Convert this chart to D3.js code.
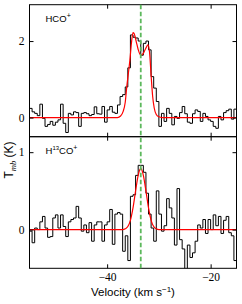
<!DOCTYPE html>
<html>
<head>
<meta charset="utf-8">
<script src="https://cdn.jsdelivr.net/npm/d3@7"></script>
<style>
    body { margin: 0; background: #fff; }
    svg { display: block; }
    .tick text { font-family: "Liberation Serif", "Times New Roman", serif; font-size: 11.5px; fill: #000; }
    .tick line { stroke: #000; }
    .frame { fill: none; stroke: #000; stroke-width: 1; }
    .spectrum { fill: none; stroke: #000; stroke-width: 1; }
    .fit { fill: none; stroke: #ff0000; stroke-width: 1.2; }
    .vlsr { stroke: #5cb85c; stroke-width: 1.8; stroke-dasharray: 4.5, 2.5; }
    .lineName, .axisTitle { font-family: "Liberation Sans", Arial, sans-serif; fill: #000; }
</style>
</head>
<body>
<div id="chart"></div>
<script>
//Left edge of every channel (km/s)
var chanVel = [-55, -54.5, -54, -53.5, -53, -52.5, -52, -51.5, -51, -50.5,
    -50, -49.5, -49, -48.5, -48, -47.5, -47, -46.5, -46, -45.5,
    -45, -44.5, -44, -43.5, -43, -42.5, -42, -41.5, -41, -40.5,
    -40, -39.5, -39, -38.5, -38, -37.5, -37, -36.5, -36, -35.5,
    -35, -34.5, -34, -33.5, -33, -32.5, -32, -31.5, -31, -30.5,
    -30, -29.5, -29, -28.5, -28, -27.5, -27, -26.5, -26, -25.5,
    -25, -24.5, -24, -23.5, -23, -22.5, -22, -21.5, -21, -20.5,
    -20, -19.5, -19, -18.5, -18, -17.5, -17, -16.5, -16, -15.5];

//HCO+ brightness per channel (K)
var hcoT = [0.24, 0.15, 0.11, 0.05, 0.35, -0.02, -0.23, -0.18, -0.1, -0.2,
    -0.12, -0.06, 0.35, -0.15, -0.39, 0.11, 0.07, 0.15, 0.13, -0.23,
    0.11, 0.13, 0.1, 0.05, 0.08, 0.28, 0.1, 0.09, 0.29, -0.12,
    0.2, 0.29, 0.14, 0.11, 0.33, 0.55, 0.6, 0.8, 1.3, 2.16,
    2.1, 2.08, 2.0, 1.63, 1.94, 2.0, 1.77, 1.07, 0.77, 0.42,
    -0.23, 0.11, -0.1, 0.24, 0.11, -0.19, 0.03, -0.02, 0.13, 0.29,
    0.1, -0.12, -0.15, 0.1, 0.2, 0.16, -0.1, 0.11, 0.03, -0.06,
    -0.1, -0.23, -0.28, 0.03, -0.06, 0.13, 0.18, 0.22, -0.04, 0.22];

//H13CO+ brightness per channel (K)
var h13coT = [-0.02, -0.17, 0.02, 0.0, 0.1, 0.17, 0.02, -0.1, -0.09, 0.15,
    0.19, 0.02, 0.19, 0.04, -0.09, 0.1, 0.13, 0.15, 0.3, 0.15,
    -0.02, 0.06, -0.04, 0.09, -0.15, 0.06, 0.1, 0.1, -0.15, 0.06,
    0.1, 0.26, -0.19, 0.2, 0.22, 0.2, -0.28, -0.08, -0.4, 0.43,
    0.45, 0.7, 0.83, 0.83, 0.74, 0.47, 0.2, 0.02, -0.15, 0.5,
    0.2, -0.02, 0.05, 0.4, 0.28, 0.15, -0.2, 0.53, -0.13, -0.25,
    -0.6, -0.2, -0.36, -0.3, -0.15, 0.06, 0.02, 0.13, -0.05, 0.13,
    0.0, 0.19, 0.05, 0.17, -0.05, 0.12, 0.17, -0.04, -0.08, -0.4];

//Red fitted profiles
var hcoFitVel = [-55, -38, -37.4, -36.9, -36.5, -36.2, -35.9, -35.6, -35.3, -35.0,
    -34.8, -34.4, -34.0, -33.5, -33.0, -32.5, -32.1, -31.8, -31.5, -31.2,
    -30.9, -30.5, -30.0, -29.4, -15];
var hcoFitT = [0, 0, 0.04, 0.16, 0.4, 0.81, 1.15, 1.5, 1.95, 2.22,
    2.2, 2.0, 1.78, 1.63, 1.68, 1.82, 1.9, 1.7, 1.1, 0.55,
    0.25, 0.08, 0.02, 0, 0];
var h13coFitVel = [-55, -37, -36.5, -36, -35.5, -35, -34.5, -34, -33.5, -33,
    -32.5, -32, -31.5, -31, -30.5, -30, -15];
var h13coFitT = [0, 0, 0.01, 0.04, 0.12, 0.28, 0.5, 0.7, 0.79, 0.7,
    0.5, 0.28, 0.12, 0.04, 0.01, 0, 0];

var vlsr = -33.5;
var velDomain = [-55, -15];
var velTicks = [-40, -20];
var hcoDomain = [-0.5, 2.95];
var hcoTicks = [0, 2];
var h13coDomain = [-0.5, 1.2];
var h13coTicks = [0, 1];

var margin = { left: 29.5, right: 236.5, top: 4.7, mid: 136.7, bottom: 268.3 };

var svg = d3.select("#chart").append("svg")
    .attr("width", 242)
    .attr("height", 304);

var xScale = d3.scaleLinear().domain(velDomain).range([margin.left, margin.right]);

//matplotlib style labels with a true minus sign
var tickFmt = function (d) { return String(d).replace("-", "\u2212"); };

/**
 * One spectrum panel: frame, ticks, step spectrum and fitted profile
 */
function SpectrumPanel(id, top, bottom, yDomain, yTicks, values, fitVel, fitT, name, showXLabels) {
    var self = this;
    self.id = id;
    self.top = top;
    self.bottom = bottom;
    self.yScale = d3.scaleLinear().domain(yDomain).range([bottom, top]);
    self.values = values;
    self.fitVel = fitVel;
    self.fitT = fitT;
    self.name = name;
    self.yTicks = yTicks;
    self.showXLabels = showXLabels;
    self.g = svg.append("g");
}

SpectrumPanel.prototype.draw = function () {
    var self = this;

    self.g.append("clipPath")
        .attr("id", "clip-" + self.id)
        .append("rect")
        .attr("x", margin.left)
        .attr("y", self.top)
        .attr("width", margin.right - margin.left)
        .attr("height", self.bottom - self.top);

    var plot = self.g.append("g").attr("clip-path", "url(#clip-" + self.id + ")");

    //step spectrum, each value held over its channel
    var pts = chanVel.map(function (v, i) { return [v, self.values[i]]; });
    pts.push([velDomain[1], self.values[self.values.length - 1]]);

    var step = d3.line()
        .x(function (d) { return xScale(d[0]); })
        .y(function (d) { return self.yScale(d[1]); })
        .curve(d3.curveStepAfter);

    plot.append("path")
        .attr("class", "spectrum")
        .attr("d", step(pts));

    var fit = d3.line()
        .x(function (d, i) { return xScale(self.fitVel[i]); })
        .y(function (d) { return self.yScale(d); })
        .curve(d3.curveMonotoneX);

    plot.append("path")
        .attr("class", "fit")
        .attr("d", fit(self.fitT));

    //ticks pointing inwards on all four sides
    self.g.append("g")
        .attr("transform", "translate(" + margin.left + ",0)")
        .call(d3.axisLeft(self.yScale).tickValues(self.yTicks).tickSize(-4).tickPadding(5).tickFormat(tickFmt))
        .call(function (a) { a.select(".domain").remove(); });

    self.g.append("g")
        .attr("transform", "translate(" + margin.right + ",0)")
        .call(d3.axisRight(self.yScale).tickValues(self.yTicks).tickSize(-4).tickFormat(""))
        .call(function (a) { a.select(".domain").remove(); });

    self.g.append("g")
        .attr("transform", "translate(0," + self.top + ")")
        .call(d3.axisTop(xScale).tickValues(velTicks).tickSize(-4).tickFormat(""))
        .call(function (a) { a.select(".domain").remove(); });

    var xAxis = d3.axisBottom(xScale).tickValues(velTicks).tickSize(-4).tickPadding(5)
        .tickFormat(function (d) { return self.showXLabels ? tickFmt(d) : ""; });

    self.g.append("g")
        .attr("transform", "translate(0," + self.bottom + ")")
        .call(xAxis)
        .call(function (a) { a.select(".domain").remove(); });

    self.g.append("rect")
        .attr("class", "frame")
        .attr("x", margin.left)
        .attr("y", self.top)
        .attr("width", margin.right - margin.left)
        .attr("height", self.bottom - self.top);

    var label = self.g.append("text")
        .attr("class", "lineName")
        .attr("x", 45.5)
        .attr("y", self.top + 17)
        .style("font-size", "9.5px");
    self.name(label);
};

var hcoPanel = new SpectrumPanel("hco", margin.top, margin.mid, hcoDomain, hcoTicks, hcoT,
    hcoFitVel, hcoFitT, function (t) {
        t.append("tspan").text("HCO");
        t.append("tspan").attr("dy", -3.5).style("font-size", "7px").text("+");
    }, false);
hcoPanel.draw();

var h13coPanel = new SpectrumPanel("h13co", margin.mid, margin.bottom, h13coDomain, h13coTicks, h13coT,
    h13coFitVel, h13coFitT, function (t) {
        t.append("tspan").text("H");
        t.append("tspan").attr("dy", -3.5).style("font-size", "6px").text("13");
        t.append("tspan").attr("dy", 3.5).text("CO");
        t.append("tspan").attr("dy", -3.5).style("font-size", "7px").text("+");
    }, true);
h13coPanel.draw();

//systemic velocity marker across both panels
svg.append("line")
    .attr("class", "vlsr")
    .attr("x1", xScale(vlsr))
    .attr("x2", xScale(vlsr))
    .attr("y1", margin.top)
    .attr("y2", margin.bottom);

var xTitle = svg.append("text")
    .attr("class", "axisTitle")
    .attr("x", (margin.left + margin.right) / 2)
    .attr("y", 296)
    .attr("text-anchor", "middle")
    .style("font-size", "11.5px");
xTitle.append("tspan").text("Velocity (km s");
xTitle.append("tspan").attr("dy", -4).style("font-size", "8px").text("\u22121");
xTitle.append("tspan").attr("dy", 4).text(")");

var yTitle = svg.append("text")
    .attr("class", "axisTitle")
    .attr("transform", "translate(13,160) rotate(-90)")
    .attr("text-anchor", "middle")
    .style("font-size", "12px");
yTitle.append("tspan").text("T");
yTitle.append("tspan").attr("dy", 2.5).style("font-size", "8.5px")
    .style("font-style", "italic").style("font-family", "'Liberation Serif', serif").text("mb");
yTitle.append("tspan").attr("dy", -2.5).text(" (K)");
</script>
</body>
</html>
